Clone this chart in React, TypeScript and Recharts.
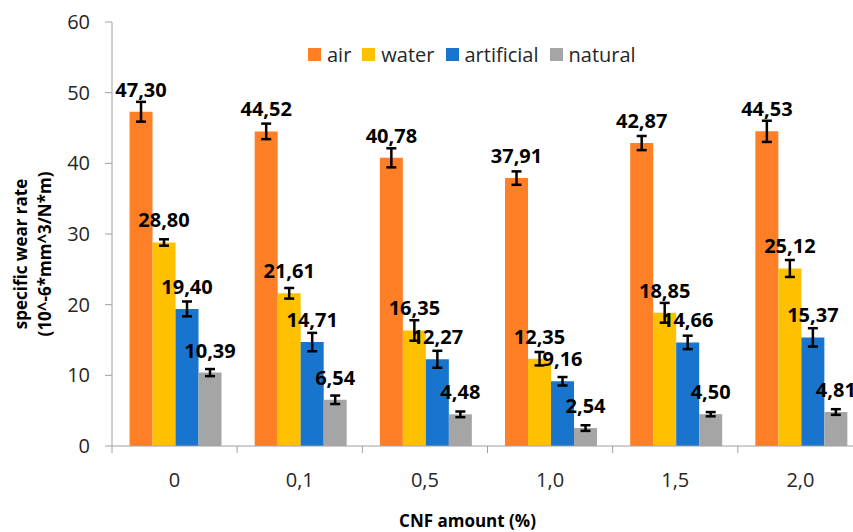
import { BarChart, Bar, XAxis, YAxis, Legend, LabelList, ErrorBar } from 'recharts'

const categories = ['0', '0,1', '0,5', '1,0', '1,5', '2,0']

const air = [47.3, 44.52, 40.78, 37.91, 42.87, 44.53]
const water = [28.8, 21.61, 16.35, 12.35, 18.85, 25.12]
const artificial = [19.4, 14.71, 12.27, 9.16, 14.66, 15.37]
const natural = [10.39, 6.54, 4.48, 2.54, 4.5, 4.81]

// error bar half-heights
const airErr = [1.4, 1.1, 1.35, 0.95, 1.0, 1.5]
const waterErr = [0.45, 0.75, 1.45, 0.95, 1.4, 1.2]
const artificialErr = [1.05, 1.3, 1.2, 0.6, 0.95, 1.3]
const naturalErr = [0.5, 0.6, 0.4, 0.4, 0.3, 0.4]

const yTicks = [0, 10, 20, 30, 40, 50, 60]

const series = [
  { key: 'air', name: 'air', color: '#FF7F27' },
  { key: 'water', name: 'water', color: '#FFC000' },
  { key: 'artificial', name: 'artificial', color: '#1874CD' },
  { key: 'natural', name: 'natural', color: '#A5A5A5' },
]

const data = categories.map((cnf, i) => ({
  cnf,
  air: air[i],
  airErr: airErr[i],
  water: water[i],
  waterErr: waterErr[i],
  artificial: artificial[i],
  artificialErr: artificialErr[i],
  natural: natural[i],
  naturalErr: naturalErr[i],
}))

const FONT = '"Open Sans", sans-serif'
const AXIS_COLOR = '#A0A0A0'
const TEXT_COLOR = '#262626'

const fmt = (v: any) => Number(v).toFixed(2).replace('.', ',')

function CategoryTick({ x, y, payload }: any) {
  // tick mark sits on the category boundary, like Excel
  const left = x - (payload.offset || 0)
  return (
    <g>
      <line x1={left} x2={left} y1={y - 7} y2={y} stroke={AXIS_COLOR} strokeWidth={1} />
      <text x={x} y={y + 34} textAnchor="middle" fontFamily={FONT} fontSize={20} fill={TEXT_COLOR}>
        {payload.value}
      </text>
    </g>
  )
}

function YTitle({ viewBox }: any) {
  const cy = viewBox.y + viewBox.height / 2 + 20
  return (
    <g fontFamily={FONT} fontWeight={700} fontSize={17} fill="#000">
      <text transform={`translate(27, ${cy}) rotate(-90)`} textAnchor="middle">
        specific wear rate
      </text>
      <text transform={`translate(51, ${cy}) rotate(-90)`} textAnchor="middle">
        (10^-6*mm^3/N*m)
      </text>
    </g>
  )
}

function XTitle({ viewBox }: any) {
  const cx = viewBox.x + viewBox.width / 2 - 20
  return (
    <text x={cx} y={527} textAnchor="middle" fontFamily={FONT} fontWeight={700} fontSize={17} fill="#000">
      CNF amount (%)
    </text>
  )
}

const renderLegend = () => (
  <div style={{ display: 'flex', alignItems: 'center', fontFamily: FONT, fontSize: 20, color: TEXT_COLOR }}>
    {series.map((s) => (
      <span key={s.key} style={{ display: 'flex', alignItems: 'center', marginRight: 11 }}>
        <span style={{ width: 13, height: 13, background: s.color, marginRight: 6, display: 'inline-block' }} />
        {s.name}
      </span>
    ))}
  </div>
)

export default function App() {
  return (
    <div style={{ position: 'absolute', top: 0, left: 0, width: 853, height: 532, overflow: 'hidden', background: '#fff' }}>
      <BarChart
        width={880}
        height={532}
        data={data}
        margin={{ top: 22, right: 17, bottom: 0, left: 0 }}
        barCategoryGap="14%"
        barGap={0}
      >
        <XAxis
          dataKey="cnf"
          height={86}
          tickLine={false}
          tickSize={7}
          tickMargin={0}
          axisLine={{ stroke: AXIS_COLOR }}
          tick={<CategoryTick />}
          interval={0}
          label={<XTitle />}
        />
        <YAxis
          width={112}
          domain={[0, 60]}
          ticks={yTicks}
          tickSize={7}
          tickMargin={15}
          axisLine={{ stroke: AXIS_COLOR }}
          tickLine={{ stroke: AXIS_COLOR }}
          tick={{ fontFamily: FONT, fontSize: 20, fill: TEXT_COLOR }}
          label={<YTitle />}
        />
        <Legend
          layout="horizontal"
          verticalAlign="middle"
          align="center"
          content={renderLegend}
          wrapperStyle={{ top: 41, left: 308, width: 420 }}
        />
        {series.map((s) => (
          <Bar key={s.key} dataKey={s.key} name={s.name} fill={s.color} isAnimationActive={false}>
            <ErrorBar dataKey={`${s.key}Err`} width={5} stroke="#000" strokeWidth={2.5} direction="y" />
            <LabelList
              dataKey={s.key}
              position="top"
              offset={15}
              formatter={fmt}
              style={{ fontFamily: FONT, fontWeight: 700, fontSize: 20, fill: '#000' }}
            />
          </Bar>
        ))}
      </BarChart>
    </div>
  )
}
